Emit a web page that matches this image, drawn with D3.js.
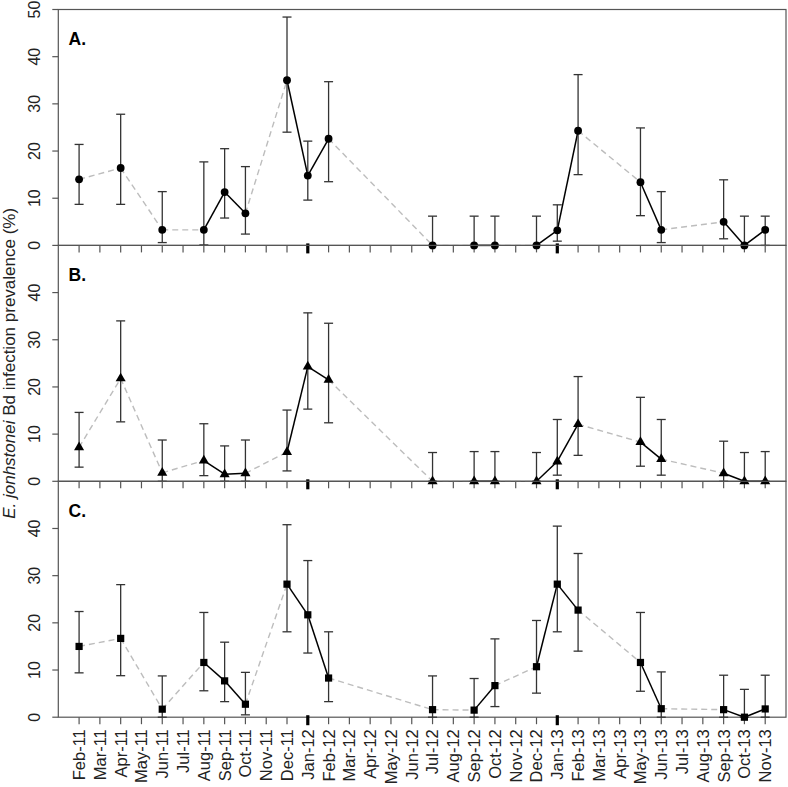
<!DOCTYPE html>
<html><head><meta charset="utf-8">
<script src="https://cdn.jsdelivr.net/npm/d3@7"></script>
<style>
html,body{margin:0;padding:0;background:#fff;}
svg{display:block;font-family:"Liberation Sans",Arial,sans-serif;}
</style></head>
<body><svg id="chart" width="788" height="787"></svg>
<script>
const monthLabels = ["Feb-11","Mar-11","Apr-11","May-11","Jun-11","Jul-11","Aug-11","Sep-11","Oct-11","Nov-11","Dec-11","Jan-12","Feb-12","Mar-12","Apr-12","May-12","Jun-12","Jul-12","Aug-12","Sep-12","Oct-12","Nov-12","Dec-12","Jan-13","Feb-13","Mar-13","Apr-13","May-13","Jun-13","Jul-13","Aug-13","Sep-13","Oct-13","Nov-13"];
const sampleMonths = ["Feb-11","Apr-11","Jun-11","Aug-11","Sep-11","Oct-11","Dec-11","Jan-12","Feb-12","Jul-12","Sep-12","Oct-12","Dec-12","Jan-13","Feb-13","May-13","Jun-13","Sep-13","Oct-13","Nov-13"];
const yTicks = [0,10,20,30,40,50];
const panelNames = ["A.","B.","C."];

const prevA = [14.0,16.4,3.3,3.3,11.3,6.8,35.0,14.8,22.6,0,0,0,0,3.2,24.3,13.4,3.3,5.0,0,3.3];
const lowA  = [8.7,8.7,0.6,0.1,5.8,2.4,24.0,9.6,13.5,0,0,0,0,0.9,15.0,6.3,0.6,1.4,0,0];
const highA = [21.4,27.8,11.4,17.7,20.5,16.7,48.4,22.1,34.7,6.2,6.2,6.2,6.2,8.6,36.2,24.9,11.4,13.9,6.2,6.2];

const prevB = [7.2,21.8,1.8,4.4,1.5,1.7,6.2,24.3,21.5,0,0,0,0,4.2,12.1,8.3,4.7,1.7,0,0];
const lowB  = [3.0,12.6,0,1.2,0,0,2.2,15.3,12.4,0,0,0,0,1.3,5.5,3.2,1.3,0,0,0];
const highB = [14.6,34.0,8.75,12.2,7.5,8.75,15.1,35.7,33.5,6.1,6.3,6.3,6.1,13.1,22.2,17.8,13.1,8.5,6.1,6.3];

const prevC = [15.0,16.7,1.7,11.6,7.7,2.75,28.2,21.7,8.3,1.6,1.5,6.7,10.7,28.2,22.7,11.6,1.8,1.6,0,1.75];
const lowC  = [9.4,8.8,0,5.6,3.3,0.5,18.1,13.6,3.3,0,0,2.25,5.1,18.1,14.0,5.5,0,0,0,0];
const highC = [22.4,28.1,8.75,22.2,15.9,9.5,40.8,33.2,18.1,8.75,8.2,16.6,20.5,40.5,34.7,22.2,9.6,8.9,5.9,8.9];

const panels = [
  {name: panelNames[0], prev: prevA, low: lowA, high: highA, shape: d3.symbolCircle, size: 48},
  {name: panelNames[1], prev: prevB, low: lowB, high: highB, shape: d3.symbolTriangle, size: 44},
  {name: panelNames[2], prev: prevC, low: lowC, high: highC, shape: d3.symbolSquare, size: 52}
];

const svg = d3.select("#chart");
const left = 58.3, right = 786, top0 = 9.5, panelH = 235.9;
const axisCol = "#555";

const x = d3.scalePoint().domain(monthLabels).range([left, right]).padding(1);
const mIndex = m => monthLabels.indexOf(m);

panels.forEach((p, pi) => {
  const pTop = top0 + pi * panelH, pBot = pTop + panelH;
  const y = d3.scaleLinear().domain([0, 50]).range([pBot, pTop]);
  const g = svg.append("g");

  g.append("rect").attr("x", left).attr("y", pTop).attr("width", right - left).attr("height", panelH)
    .attr("fill", "none").attr("stroke", axisCol).attr("stroke-width", 1.2);

  const ticks = pi === 0 ? yTicks : yTicks.filter(t => t < 50);
  ticks.forEach(t => {
    g.append("line").attr("x1", left - 6).attr("x2", left).attr("y1", y(t)).attr("y2", y(t))
      .attr("stroke", axisCol).attr("stroke-width", 1.2);
    g.append("text").attr("transform", `translate(40,${y(t)}) rotate(-90)`)
      .attr("text-anchor", "middle").attr("font-size", 16).attr("fill", "#222").text(t);
  });

  monthLabels.forEach(m => {
    const isJan = m.startsWith("Jan");
    g.append("line").attr("x1", x(m)).attr("x2", x(m))
      .attr("y1", isJan ? pBot - 2 : pBot).attr("y2", pBot + (isJan ? 8 : 7))
      .attr("stroke", isJan ? "#000" : axisCol).attr("stroke-width", isJan ? 3.2 : 1.2);
  });

  for (let i = 0; i < sampleMonths.length - 1; i++) {
    const a = sampleMonths[i], b = sampleMonths[i + 1];
    const consecutive = mIndex(b) - mIndex(a) === 1;
    g.append("line").attr("x1", x(a)).attr("y1", y(p.prev[i])).attr("x2", x(b)).attr("y2", y(p.prev[i + 1]))
      .attr("stroke", consecutive ? "#000" : "#bdbdbd").attr("stroke-width", consecutive ? 1.5 : 1.4)
      .attr("stroke-dasharray", consecutive ? null : "6,4");
  }

  sampleMonths.forEach((m, i) => {
    const cx = x(m);
    g.append("line").attr("x1", cx).attr("x2", cx).attr("y1", y(p.low[i])).attr("y2", y(p.high[i]))
      .attr("stroke", "#333").attr("stroke-width", 1.3);
    [p.low[i], p.high[i]].forEach(v => {
      g.append("line").attr("x1", cx - 4.5).attr("x2", cx + 4.5).attr("y1", y(v)).attr("y2", y(v))
        .attr("stroke", "#333").attr("stroke-width", 1.3);
    });
  });

  g.selectAll("path.mk").data(sampleMonths).join("path").attr("class", "mk")
    .attr("transform", (m, i) => `translate(${x(m)},${y(p.prev[i])})`)
    .attr("d", d3.symbol().type(p.shape).size(p.size)).attr("fill", "#000");

  g.append("text").attr("x", 68.5).attr("y", pTop + 35.5).attr("font-size", 17.5)
    .attr("font-weight", "bold").attr("fill", "#000").text(p.name);
});

const bottom = top0 + 3 * panelH;
monthLabels.forEach(m => {
  svg.append("text").attr("transform", `translate(${x(m)},${bottom + 12}) rotate(-90)`)
    .attr("text-anchor", "end").attr("dy", "0.36em").attr("font-size", 16.5).attr("fill", "#222").text(m);
});

const yt = svg.append("text").attr("transform", `translate(15,${(top0 + bottom) / 2}) rotate(-90)`)
  .attr("text-anchor", "middle").attr("font-size", 17).attr("fill", "#222");
yt.append("tspan").attr("font-style", "italic").text("E. jonhstonei");
yt.append("tspan").text(" Bd infection prevalence (%)");
</script></body></html>
